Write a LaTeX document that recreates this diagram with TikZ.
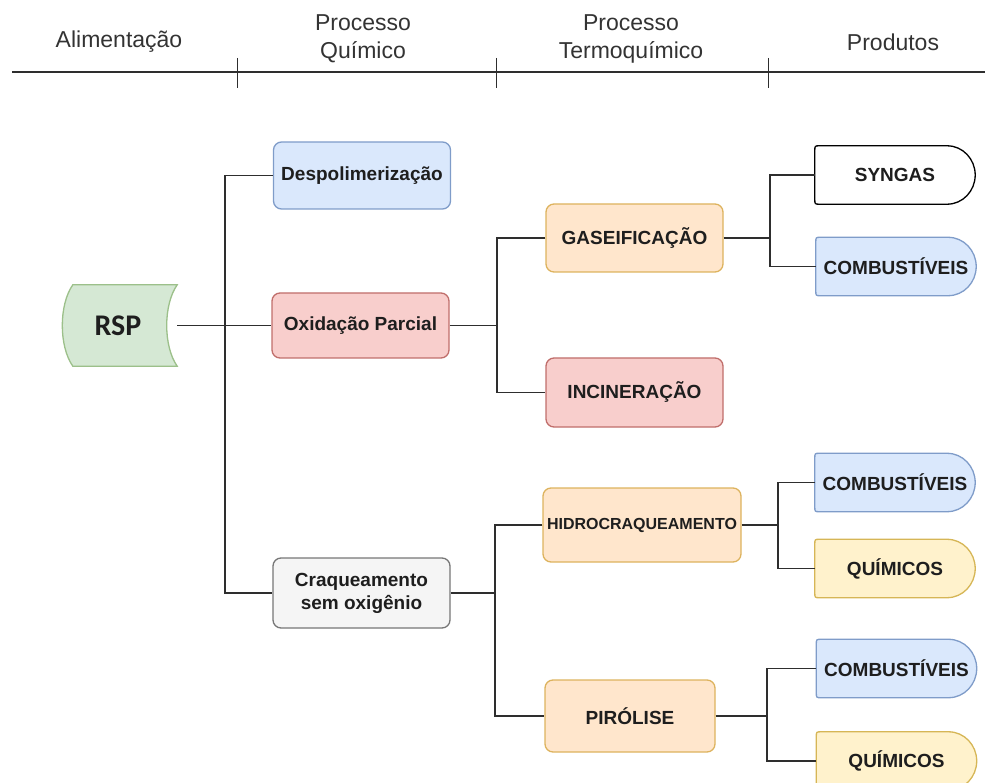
\documentclass[tikz,border=0pt]{standalone}
\usepackage{fontspec}
\setmainfont{Liberation Sans}
\newfontfamily\rspfont{Carlito}
\usetikzlibrary{backgrounds}

\definecolor{txt}{HTML}{1E1E1E}
\definecolor{hdrtxt}{HTML}{333333}
\definecolor{wire}{HTML}{2E2E2E}
\definecolor{bluefill}{HTML}{DAE8FC}\definecolor{bluedraw}{HTML}{7F9CC9}
\definecolor{redfill}{HTML}{F8CECC}\definecolor{reddraw}{HTML}{C06E6B}
\definecolor{orfill}{HTML}{FFE6CC}\definecolor{ordraw}{HTML}{DDB35E}
\definecolor{yelfill}{HTML}{FFF2CC}\definecolor{yeldraw}{HTML}{D6B656}
\definecolor{grnfill}{HTML}{D5E8D4}\definecolor{grndraw}{HTML}{9CC08A}
\definecolor{grayfill}{HTML}{F5F5F5}\definecolor{graydraw}{HTML}{777777}

% product shape: flat left side, rounded right end
\newcommand\delayshape[3]{%
  \filldraw[fill=#2, draw=#3, line width=1.3pt]
    ([xshift=-28pt]#1.north east)
    .. controls ([xshift=-12.5pt]#1.north east) and ([yshift=16pt]#1.east) .. (#1.east)
    .. controls ([yshift=-16pt]#1.east) and ([xshift=-12.5pt]#1.south east) .. ([xshift=-28pt]#1.south east)
    -- ([xshift=5pt]#1.south west)
    .. controls (#1.south west) .. ([yshift=5pt]#1.south west)
    -- ([yshift=-5pt]#1.north west)
    .. controls (#1.north west) .. ([xshift=5pt]#1.north west)
    -- cycle;}

% feed shape: convex left side, concave right side
\newcommand\storeshape[3]{%
  \filldraw[fill=#2, draw=#3, line width=1.3pt]
    (#1.north west) -- (#1.north east)
    .. controls ([xshift=-14pt,yshift=-20pt]#1.north east) and ([xshift=-14pt,yshift=20pt]#1.south east) .. (#1.south east)
    -- (#1.south west)
    .. controls ([xshift=-14pt,yshift=20pt]#1.south west) and ([xshift=-14pt,yshift=-20pt]#1.north west) .. cycle;}

\begin{document}
\begin{tikzpicture}[x=1pt, y=-1pt,
  hdr/.style={font=\fontsize{23}{28}\selectfont, text=hdrtxt, align=center, inner sep=0pt},
  hline/.style={draw=wire, line width=1.6pt},
  tick/.style={draw=wire, line width=0.9pt},
  box/.style={draw, rounded corners=8pt, line width=1.3pt, minimum width=177pt,
              minimum height=67pt, inner sep=0pt, align=center, text=txt,
              font=\fontsize{19}{23}\selectfont\bfseries},
  bluebox/.style={box, fill=bluefill, draw=bluedraw},
  redbox/.style={box, fill=redfill, draw=reddraw},
  orbox/.style={box, fill=orfill, draw=ordraw},
  graybox/.style={box, fill=grayfill, draw=graydraw},
  prod/.style={minimum width=160pt, minimum height=58pt, inner sep=0pt, text=txt,
               font=\fontsize{19}{23}\selectfont\bfseries},
  feed/.style={minimum width=104pt, minimum height=81pt, inner sep=0pt, text=txt,
               font=\rspfont\fontsize{30}{34}\selectfont\bfseries},
  link/.style={draw=wire, line width=1.6pt}
]
\useasboundingbox (0,0) rectangle (985,783);
\clip (0,0) rectangle (985,783);

% column headings and time-line
\node[hdr] (h1) at (119,42) {Alimentação};
\node[hdr] (h2) at (363,39) {Processo\\Químico};
\node[hdr] (h3) at (631,39) {Processo\\Termoquímico};
\node[hdr] (h4) at (893,42) {Produtos};
\coordinate (la) at (12,72);
\coordinate (lb) at (985,72);
\draw[hline] (la) -- (lb);
\foreach \x in {237,496,768} \draw[tick] (\x,58) -- (\x,88);

% feed
\node[feed] (rsp) at (125,325.5) {\hspace{-14pt}RSP};

% chemical processes
\node[bluebox] (desp) at (362,175.5) {Despolimerização};
\node[redbox, minimum height=65pt] (oxi) at (360.5,325.5) {Oxidação Parcial};
\node[graybox, minimum height=70pt] (craq) at (361.5,593) {Craqueamento\\sem oxigênio};

% thermochemical processes
\node[orbox, minimum height=68pt] (gas) at (634.5,238) {GASEIFICAÇÃO};
\node[redbox, minimum height=69pt] (inc) at (634.5,392.5) {INCINERAÇÃO};
\node[orbox, minimum width=198pt, minimum height=74pt,
      font=\fontsize{16}{20}\selectfont\bfseries] (hidro) at (642,525) {HIDROCRAQUEAMENTO};
\node[orbox, minimum width=170pt, minimum height=72pt] (piro) at (630,716) {PIRÓLISE};

% products
\node[prod] (syn)   at (895,175)   {SYNGAS};
\node[prod] (comb1) at (896,266.5) {COMBUSTÍVEIS};
\node[prod] (comb2) at (895,482.5) {COMBUSTÍVEIS};
\node[prod] (quim1) at (895,568.5) {QUÍMICOS};
\node[prod] (comb3) at (896.5,668.5) {COMBUSTÍVEIS};
\node[prod] (quim2) at (896.5,761) {QUÍMICOS};

\begin{scope}[on background layer]
  \storeshape{rsp}{grnfill}{grndraw}
  \delayshape{syn}{white}{black}
  \delayshape{comb1}{bluefill}{bluedraw}
  \delayshape{comb2}{bluefill}{bluedraw}
  \delayshape{quim1}{yelfill}{yeldraw}
  \delayshape{comb3}{bluefill}{bluedraw}
  \delayshape{quim2}{yelfill}{yeldraw}
\end{scope}

% branch points
\coordinate (j1) at (225,325.5);
\coordinate (j2) at (497,325.5);
\coordinate (j3) at (770,238);
\coordinate (j4) at (495,593);
\coordinate (j5) at (778,525);
\coordinate (j6) at (767,716);

% connectors
\draw[link] (rsp.east) -- (oxi.west);
\draw[link] (desp.west) -| (j1) |- (craq.west);
\draw[link] (oxi.east) -- (j2);
\draw[link] (gas.west) -| (j2) |- (inc.west);
\draw[link] (gas.east) -- (j3);
\draw[link] (syn.west) -| (j3) |- (comb1.west);
\draw[link] (craq.east) -- (j4);
\draw[link] (hidro.west) -| (j4) |- (piro.west);
\draw[link] (hidro.east) -- (j5);
\draw[link] (comb2.west) -| (j5) |- (quim1.west);
\draw[link] (piro.east) -- (j6);
\draw[link] (comb3.west) -| (j6) |- (quim2.west);
\end{tikzpicture}
\end{document}
